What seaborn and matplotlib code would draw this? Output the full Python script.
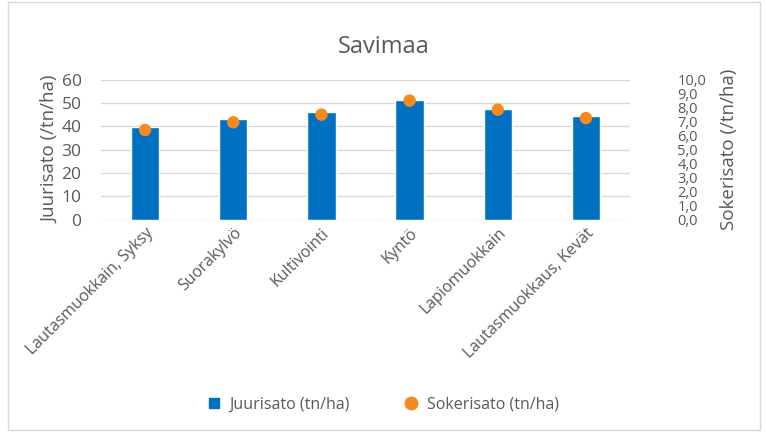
import seaborn as sns
import matplotlib.pyplot as plt
import pandas as pd
from matplotlib.ticker import FuncFormatter
from matplotlib.lines import Line2D
from matplotlib.patches import Rectangle

categories = ["Lautasmuokkain, Syksy", "Suorakylvö", "Kultivointi", "Kyntö",
              "Lapiomuokkain", "Lautasmuokkaus, Kevät"]
juurisato = [39.6, 43.2, 46.2, 51.4, 47.3, 44.6]
sokerisato = [6.4, 6.95, 7.5, 8.5, 7.85, 7.25]

df = pd.DataFrame({"kasittely": categories, "juurisato": juurisato,
                   "sokerisato": sokerisato})

sns.set_style("white")
plt.rcParams["font.family"] = ["Open Sans", "DejaVu Sans"]
grey = "#595959"
blue = "#0070C0"
orange = "#F58A1F"

fig = plt.figure(figsize=(7.67, 4.33), dpi=100)
ax = fig.add_axes([0.1317, 0.493, 0.6897, 0.323])

sns.barplot(data=df, x="kasittely", y="juurisato", color=blue, width=0.32,
            saturation=1, ax=ax)
ax.set_ylim(0, 60)
ax.set_yticks(range(0, 61, 10))
ax.grid(axis="y", color="#D9D9D9", linewidth=1)
ax.set_axisbelow(True)
for s in ax.spines.values():
    s.set_visible(False)
ax.tick_params(axis="y", length=0, colors=grey, labelsize=12.5, pad=14)
ax.tick_params(axis="x", length=0, colors=grey, labelsize=11.5, pad=4)
ax.set_xlabel("")
ax.set_ylabel("Juurisato (/tn/ha)", color=grey, fontsize=13.5, labelpad=2)
plt.setp(ax.get_xticklabels(), rotation=45, ha="right", rotation_mode="anchor")

ax2 = ax.twinx()
sns.scatterplot(data=df, x="kasittely", y="sokerisato", color=orange, s=80,
                edgecolor="none", ax=ax2, zorder=5)
ax2.set_ylim(0, 10)
ax2.set_yticks(range(0, 11))
ax2.yaxis.set_major_formatter(FuncFormatter(lambda v, p: f"{v:.1f}".replace(".", ",")))
for s in ax2.spines.values():
    s.set_visible(False)
ax2.tick_params(axis="y", length=0, colors=grey, labelsize=10.5, pad=34)
ax2.set_ylabel("Sokerisato (/tn/ha)", color=grey, fontsize=13.5, labelpad=10)
ax.set_xlim(-0.5, len(categories) - 0.5)
ax2.set_xlim(-0.5, len(categories) - 0.5)

fig.suptitle("Savimaa", x=0.5, y=0.92, fontsize=17, color=grey)

handles = [
    Line2D([], [], marker="s", linestyle="none", color=blue, markersize=7),
    Line2D([], [], marker="o", linestyle="none", color=orange, markersize=9),
]
fig.legend(handles, ["Juurisato (tn/ha)", "Sokerisato (tn/ha)"], loc="center",
           bbox_to_anchor=(0.493, 0.065), ncol=2, frameon=False, fontsize=11.5,
           labelcolor=grey, handletextpad=0.0, columnspacing=2.8)

fig.patches.append(Rectangle((0.011, 0.006), 0.98, 0.99, transform=fig.transFigure,
                             fill=False, edgecolor="#D9D9D9", linewidth=1))

fig.savefig("out.png", dpi=100)
